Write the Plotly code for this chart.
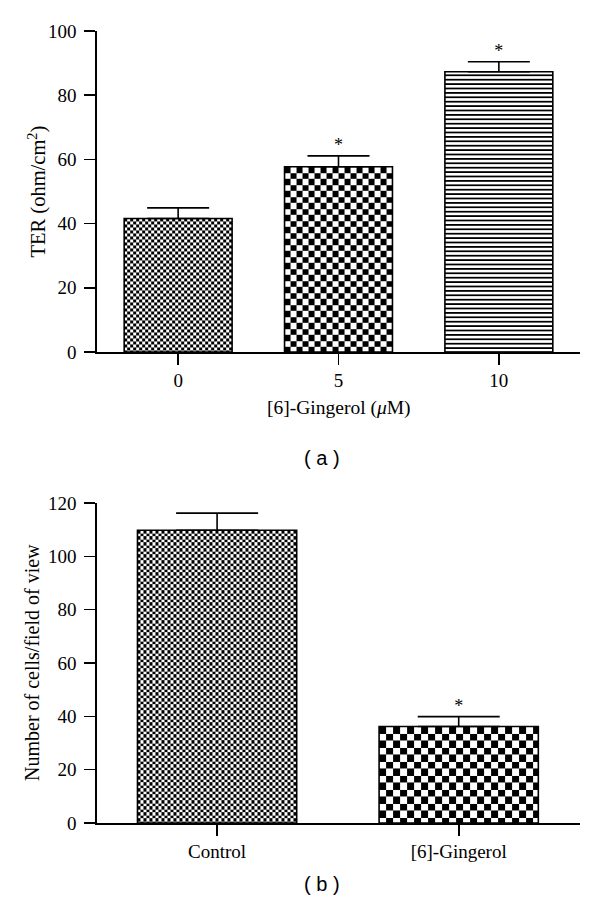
import base64
import plotly.graph_objects as go

# ---------------- data ----------------
a_categories = ["0", "5", "10"]
a_values = [41.6, 57.7, 87.3]
a_errors = [3.3, 3.4, 3.1]
a_sig = ["", "*", "*"]
a_ticks = [0, 20, 40, 60, 80, 100]

b_categories = ["Control", "[6]-Gingerol"]
b_values = [109.8, 36.2]
b_errors = [6.4, 3.7]
b_sig = ["", "*"]
b_ticks = [0, 20, 40, 60, 80, 100, 120]

# ---------------- layout constants (pixels) ----------------
W, H = 600, 914
XL, XR = 97, 580
A_TOP, A_BOT = 31, 352
B_TOP, B_BOT = 503, 823
A_XRANGE = [-0.506, 2.506]
B_XRANGE = [-0.497, 1.502]
A_YRANGE = [0, 100]
B_YRANGE = [0, 120]
A_BAR_W = 0.673
B_BAR_W = 0.659
# fill style per bar: ("check", square px) or ("lines", period px)
A_FILL = [("check", 3), ("check", 6), ("lines", 4.4)]
B_FILL = [("check", 3), ("check", 7)]

SERIF = "Liberation Serif"
SANS = "Liberation Sans"
FS_TICK = 19
FS_TITLE = 19.5


def fill_uri(wpx, hpx, kind, s):
    if kind == "check":
        tile = (
            f'<pattern id="p" x="0" y="0" width="{2*s}" height="{2*s}" patternUnits="userSpaceOnUse">'
            f'<rect width="{2*s}" height="{2*s}" fill="white"/>'
            f'<rect width="{s}" height="{s}" fill="black"/>'
            f'<rect x="{s}" y="{s}" width="{s}" height="{s}" fill="black"/>'
            '</pattern>'
        )
    else:
        tile = (
            f'<pattern id="p" x="0" y="0" width="10" height="{s}" patternUnits="userSpaceOnUse">'
            f'<rect width="10" height="{s}" fill="white"/>'
            f'<rect y="{s * 0.5:.2f}" width="10" height="{s * 0.45:.2f}" fill="black"/>'
            '</pattern>'
        )
    svg = (
        f'<svg xmlns="http://www.w3.org/2000/svg" width="{wpx:.2f}" height="{hpx:.2f}" '
        f'viewBox="0 0 {wpx:.2f} {hpx:.2f}" preserveAspectRatio="none" shape-rendering="crispEdges">'
        f'<defs>{tile}</defs>'
        '<rect width="100%" height="100%" fill="url(#p)"/></svg>'
    )
    return "data:image/svg+xml;base64," + base64.b64encode(svg.encode()).decode()


fig = go.Figure()
images = []


def add_panel(cats, vals, errs, sig, fills, bar_w, xr, yr, top, bot, xname, yname, cap):
    idx = list(range(len(cats)))
    fig.add_trace(go.Bar(
        x=idx, y=vals, width=bar_w, xaxis=xname, yaxis=yname,
        marker=dict(color="rgba(0,0,0,0)", line=dict(color="black", width=1.6)),
        error_y=dict(type="data", symmetric=False, array=errs, arrayminus=[0] * len(errs),
                     color="black", thickness=1.6, width=cap),
        showlegend=False, hoverinfo="skip",
    ))
    star_idx = [i for i, s in enumerate(sig) if s]
    fig.add_trace(go.Scatter(
        x=star_idx, y=[vals[i] + errs[i] for i in star_idx], mode="text",
        text=[sig[i] for i in star_idx],
        textposition="top center", xaxis=xname, yaxis=yname,
        textfont=dict(family=SERIF, size=18, color="black"),
        showlegend=False, hoverinfo="skip",
    ))
    ppx = (XR - XL) / (xr[1] - xr[0])
    ppy = (bot - top) / (yr[1] - yr[0])
    for i, (v, (kind, s)) in enumerate(zip(vals, fills)):
        images.append(dict(
            source=fill_uri(bar_w * ppx, v * ppy, kind, s),
            xref=xname, yref=yname, x=i - bar_w / 2, y=v,
            sizex=bar_w, sizey=v, xanchor="left", yanchor="top",
            sizing="stretch", layer="below",
        ))


add_panel(a_categories, a_values, a_errors, a_sig, A_FILL, A_BAR_W, A_XRANGE, A_YRANGE,
          A_TOP, A_BOT, "x", "y", 31)
add_panel(b_categories, b_values, b_errors, b_sig, B_FILL, B_BAR_W, B_XRANGE, B_YRANGE,
          B_TOP, B_BOT, "x2", "y2", 41)

axis_common = dict(
    showline=True, linecolor="black", linewidth=1.6, ticks="outside", ticklen=11,
    tickwidth=1.6, tickcolor="black", showgrid=False, zeroline=False, automargin=False,
    tickfont=dict(family=SERIF, size=FS_TICK, color="black"), fixedrange=True,
)


def ann(text, xpx, ypx, family, size, angle=0):
    return dict(text=text, x=xpx / W, y=1 - ypx / H, xref="paper", yref="paper",
                xanchor="center", yanchor="middle", showarrow=False, textangle=angle,
                font=dict(family=family, size=size, color="black"))


fig.update_layout(
    width=W, height=H, autosize=False,
    margin=dict(l=0, r=0, t=0, b=0),
    paper_bgcolor="white", plot_bgcolor="rgba(0,0,0,0)",
    images=images,
    xaxis=dict(domain=[XL / W, XR / W], range=A_XRANGE, tickvals=list(range(len(a_categories))),
               ticktext=a_categories, anchor="y", **axis_common),
    yaxis=dict(domain=[(H - A_BOT) / H, (H - A_TOP) / H], range=A_YRANGE, tickvals=a_ticks,
               anchor="x", ticklabelstandoff=4, **axis_common),
    xaxis2=dict(domain=[XL / W, XR / W], range=B_XRANGE, tickvals=list(range(len(b_categories))),
                ticktext=b_categories, anchor="y2", **axis_common),
    yaxis2=dict(domain=[(H - B_BOT) / H, (H - B_TOP) / H], range=B_YRANGE, tickvals=b_ticks,
                anchor="x2", ticklabelstandoff=4, **axis_common),
    annotations=[
        ann("[6]-Gingerol (<i>μ</i>M)", (XL + XR) / 2, 408, SERIF, FS_TITLE),
        ann("TER (ohm/cm<sup>2</sup>)", 37, (A_TOP + A_BOT) / 2, SERIF, 20.5, -90),
        ann("Number of cells/field of view", 32, (B_TOP + B_BOT) / 2, SERIF, 20, -90),
        ann("( a )", 322, 458, SANS, 20),
        ann("( b )", 322, 884, SANS, 20),
    ],
)

fig.write_html("out.html", post_script="document.body.style.margin='0';",
               config={"displayModeBar": False, "staticPlot": True})
